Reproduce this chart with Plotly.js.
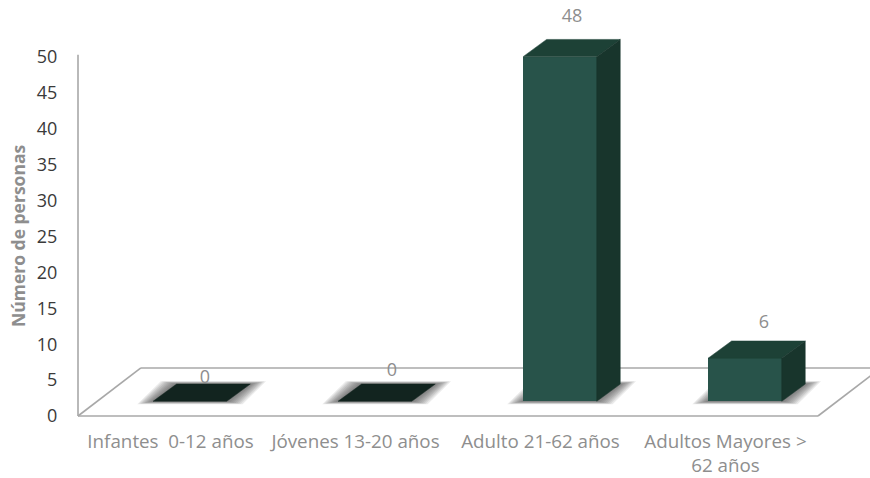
<!DOCTYPE html>
<html>
<head>
<meta charset="utf-8">
<script src="https://cdn.plot.ly/plotly-3.0.1.min.js"></script>
<style>html,body{margin:0;padding:0;background:#fff}</style>
</head>
<body>
<div id="chart" style="width:870px;height:478px"></div>
<script>
// Personas por grupo de edad
const categories = ["Infantes  0-12 años", "Jóvenes 13-20 años", "Adulto 21-62 años", "Adultos Mayores ><br>62 años"];
const yTitle = "Número de personas";
const values = [0, 0, 48, 6];
const yTicks = [0, 5, 10, 15, 20, 25, 30, 35, 40, 45, 50];

// Oblique projection of the chart box, in axis units
const barOffset = 0.605, barWidth = 0.398, barFloor = 2.05;
const barDepthX = 0.127, barDepthY = 2.4;
const floorDepthX = 0.34, floorDepthY = 6.69;
const labelDx = [0.686, 1.697, 2.67, 3.708];
const labelLift = [5.25, 6.25, 7.55, 6.85];

const FRONT = "#28534a", TOP = "#1d4136", SIDE = "#18352c", FLAT = "#12241f";
const EDGE = "#a8a8a8", MUTED = "#8e8e8e";
const FONT = "Open Sans, sans-serif";

const face = (xs, ys, color) => ({
  type: "scatter", mode: "lines", x: xs.concat(xs[0]), y: ys.concat(ys[0]),
  fill: "toself", fillcolor: color, line: {color: color, width: 0.5},
  hoverinfo: "skip", showlegend: false
});

const traces = [{
  type: "bar", x: values.map((v, i) => i + barOffset), y: values, base: barFloor,
  width: barWidth, marker: {color: FRONT, line: {width: 0}}, showlegend: false
}];

values.forEach((v, i) => {
  const l = i + barOffset - barWidth / 2, r = l + barWidth, t = barFloor + v;
  traces.push(face([l, r, r + barDepthX, l + barDepthX], [t, t, t + barDepthY, t + barDepthY], v > 0 ? TOP : FLAT));
  if (v > 0) {
    traces.push(face([r, r + barDepthX, r + barDepthX, r], [barFloor, barFloor + barDepthY, t + barDepthY, t], SIDE));
  }
});

traces.push({
  type: "scatter", mode: "text", x: labelDx, y: values.map((v, i) => v + labelLift[i]),
  text: values.map(String), textposition: "middle center",
  textfont: {family: FONT, size: 18, color: MUTED},
  hoverinfo: "skip", showlegend: false
});

const line = (x0, y0, x1, y1) => ({
  type: "line", layer: "below", xref: "x", yref: "y", x0, y0, x1, y1,
  line: {color: EDGE, width: 1.6}
});

const shapes = [
  line(0, 0, 0, 50.3),
  line(0, 0, 4, 0),
  line(0, 0, floorDepthX, floorDepthY),
  line(floorDepthX, floorDepthY, 4.4, floorDepthY),
  line(4, 0, 4 + floorDepthX, floorDepthY)
];

// Soft floor shadow under each bar, built from nested translucent outlines
values.forEach((v, i) => {
  const l = i + barOffset - barWidth / 2, r = l + barWidth;
  for (let step = 1; step <= 9; step++) {
    const g = 0.0095 * step, h = 0.045 * step;
    const y0 = barFloor - h, y1 = barFloor + barDepthY + h;
    shapes.push({
      type: "path", layer: "below", xref: "x", yref: "y",
      path: `M${l - g},${y0} L${r + g},${y0} L${r + barDepthX + g},${y1} L${l + barDepthX - g},${y1} Z`,
      fillcolor: "rgba(60,60,60,0.1)", line: {width: 0}
    });
  }
});

const layout = {
  width: 870, height: 478,
  margin: {l: 74, r: 0, t: 0, b: 58},
  paper_bgcolor: "#fff", plot_bgcolor: "#fff",
  showlegend: false, bargap: 0,
  xaxis: {
    range: [-4 / 185, 792 / 185], tickmode: "array",
    tickvals: categories.map((c, i) => i + 0.5), ticktext: categories,
    showgrid: false, zeroline: false, showline: false,
    ticks: "outside", ticklen: 4, tickcolor: "rgba(0,0,0,0)",
    tickfont: {family: FONT, size: 18.8, color: MUTED}, tickangle: 0
  },
  yaxis: {
    range: [-0.557, 57.94], tickmode: "array", tickvals: yTicks,
    showgrid: false, zeroline: false, showline: false,
    ticks: "outside", ticklen: 12, tickcolor: "rgba(0,0,0,0)",
    tickfont: {family: FONT, size: 18, color: "#3a3a3a"}
  },
  shapes,
  annotations: [{
    xref: "paper", yref: "paper", x: -56 / 796, y: 184 / 420, xanchor: "center", yanchor: "middle",
    showarrow: false, textangle: -90,
    text: yTitle, font: {family: FONT, size: 17.5, color: MUTED, weight: 700}
  }]
};

Plotly.newPlot("chart", traces, layout, {displayModeBar: false, staticPlot: true});
</script>
</body>
</html>
